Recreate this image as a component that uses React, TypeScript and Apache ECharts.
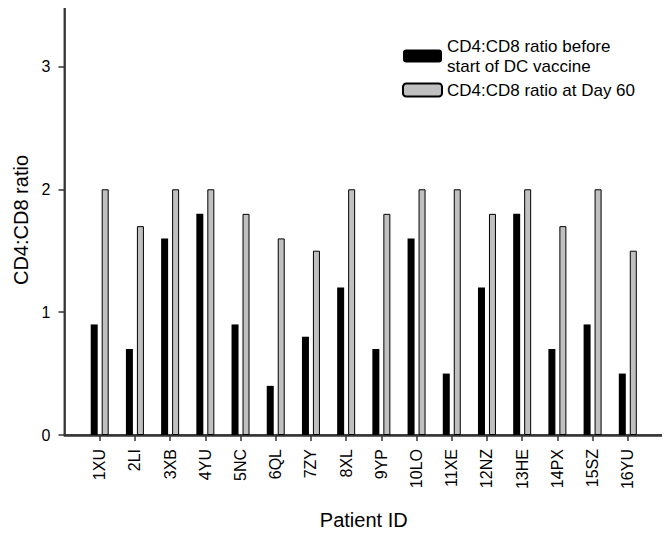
import React, { useEffect, useRef } from "react";
import * as echarts from "echarts";

const patients = ["1XU", "2LI", "3XB", "4YU", "5NC", "6QL", "7ZY", "8XL", "9YP", "10LO", "11XE", "12NZ", "13HE", "14PX", "15SZ", "16YU"];
const beforeVaccine = [0.9, 0.7, 1.6, 1.8, 0.9, 0.4, 0.8, 1.2, 0.7, 1.6, 0.5, 1.2, 1.8, 0.7, 0.9, 0.5];
const atDay60 = [2.0, 1.7, 2.0, 2.0, 1.8, 1.6, 1.5, 2.0, 1.8, 2.0, 2.0, 1.8, 2.0, 1.7, 2.0, 1.5];

const seriesBefore = "CD4:CD8 ratio before start of DC vaccine";
const seriesDay60 = "CD4:CD8 ratio at Day 60";
const legendBeforeText = "CD4:CD8 ratio before\nstart of DC vaccine";

const W = 670;
const H = 535;
const G = { left: 64.5, right: 7, top: 5, bottom: 99 };

function build() {
  const cats = ["", ...patients, ""];
  const pad = (a: number[]) => [null, ...a, null];
  const font = "Liberation Sans";
  const frame = "#333333";
  const inner = (i: number) => i > 0 && i < cats.length - 1;
  return {
    animation: false,
    grid: { ...G, show: true, borderColor: frame, borderWidth: 1.5 },
    graphic: [
      {
        type: "rect",
        silent: true,
        z: 100,
        shape: { x: G.left, y: G.top, width: W - G.left - G.right, height: H - G.top - G.bottom },
        style: { fill: "none", stroke: frame, lineWidth: 1.5 },
      },
    ],
    legend: {
      left: 402,
      top: 36,
      padding: 0,
      orient: "vertical",
      itemWidth: 39,
      itemHeight: 13,
      itemGap: 4,
      selectedMode: false,
      data: [seriesBefore, seriesDay60],
      formatter: (name: string) => (name === seriesBefore ? legendBeforeText : name),
      textStyle: { fontFamily: font, fontSize: 17, color: "#000", lineHeight: 20 },
    },
    xAxis: {
      type: "category",
      data: cats,
      boundaryGap: false,
      name: "Patient ID",
      nameLocation: "middle",
      nameGap: 75,
      nameTextStyle: { fontFamily: font, fontSize: 20, color: "#000" },
      axisLine: { show: true, onZero: false, lineStyle: { color: frame, width: 1.5 } },
      axisTick: { show: true, length: 6, interval: inner, lineStyle: { color: frame, width: 1.5 } },
      axisLabel: { rotate: 90, margin: 14, fontSize: 16, color: "#000", fontFamily: font, interval: inner },
    },
    yAxis: {
      type: "value",
      min: 0,
      max: 3.5,
      interval: 1,
      name: "CD4:CD8 ratio",
      nameLocation: "middle",
      nameRotate: 90,
      nameGap: 26,
      nameTextStyle: { fontFamily: font, fontSize: 20, color: "#000" },
      axisLine: { show: true, lineStyle: { color: frame, width: 1.5 } },
      axisTick: { show: true, length: 6, lineStyle: { color: frame, width: 1.5 } },
      axisLabel: { margin: 14, fontSize: 16, color: "#000", fontFamily: font, showMaxLabel: false },
      splitLine: { show: false },
    },
    series: [
      { name: seriesBefore, type: "bar", data: pad(beforeVaccine), barWidth: 7, barGap: "57%", itemStyle: { color: "#000" } },
      { name: seriesDay60, type: "bar", data: pad(atDay60), barWidth: 7, itemStyle: { color: "#c0c0c0", borderColor: "#000", borderWidth: 1 } },
    ],
  };
}

function Chart() {
  const ref = useRef<HTMLDivElement>(null);
  useEffect(() => {
    if (!ref.current) return;
    const chart = echarts.init(ref.current, undefined, { renderer: "svg" });
    chart.setOption(build() as any);
    return () => chart.dispose();
  }, []);
  return <div ref={ref} style={{ width: W, height: H }} />;
}

export default function App() {
  return (
    <div style={{ margin: -8, width: W, display: "flex", flexWrap: "wrap" }}>
      <Chart />
    </div>
  );
}
